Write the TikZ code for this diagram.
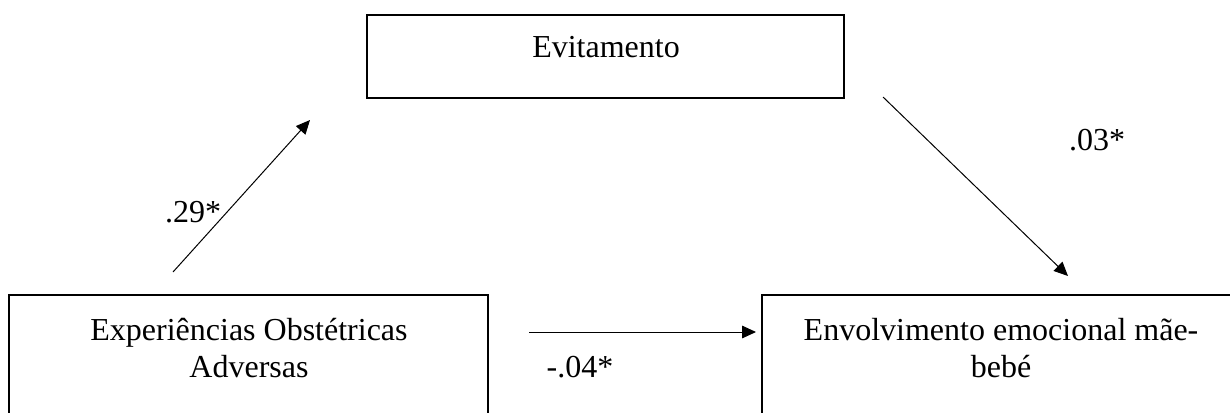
\documentclass[tikz,border=0pt]{standalone}
\usepackage{fontspec}
\setmainfont{Liberation Serif}
\usetikzlibrary{arrows.meta}

\tikzset{every picture/.style={line width=0.75pt}}
\tikzset{
  boxline/.style={line width=1.1pt},
  arr/.style={line width=0.75pt,-{Triangle[length=10.5pt,width=9.5pt]}},
  txt/.style={font=\fontsize{24}{27.6}\selectfont,inner sep=0pt,anchor=base},
}

\begin{document}
\begin{tikzpicture}[x=0.75pt,y=0.75pt,yscale=-1,xscale=1]
	\useasboundingbox (0,0) rectangle (1230,412);
	\clip (0,0) rectangle (1230,412);

	%Shape: Rectangle [Evitamento]
	\draw [boxline] (367,15) rectangle (844,98) ;
	%Shape: Rectangle [Experiencias]
	\draw [boxline] (9,295) rectangle (488,430) ;
	%Shape: Rectangle [Envolvimento]
	\draw [boxline] (762,295) rectangle (1245,430) ;

	% Text Node
	\node [txt] (evit) at (606,57) {Evitamento};
	% Text Node
	\node [txt] (exp1) at (249,340) {Experiências Obstétricas};
	\node [txt] (exp2) at (249,377) {Adversas};
	% Text Node
	\node [txt] (env1) at (1001,340) {Envolvimento emocional mãe-};
	\node [txt] (env2) at (1001,377) {bebé};

	% arrow ends
	\coordinate (aS) at (173,272);
	\coordinate (aE) at (310,120);
	\coordinate (bS) at (883,97);
	\coordinate (bE) at (1068,276);
	\coordinate (cS) at (529,332);
	\coordinate (cE) at (756,332);

	%Straight Lines
	\draw [arr] (aS) -- (aE) ;
	%Straight Lines
	\draw [arr] (bS) -- (bE) ;
	%Straight Lines
	\draw [arr] (cS) -- (cE) ;

	% Text Node
	\node [txt] (k1) at (193,222) {.29*};
	% Text Node
	\node [txt] (k2) at (1097,150) {.03*};
	% Text Node
	\node [txt] (k3) at (580,377) {-.04*};

\end{tikzpicture}
\end{document}
